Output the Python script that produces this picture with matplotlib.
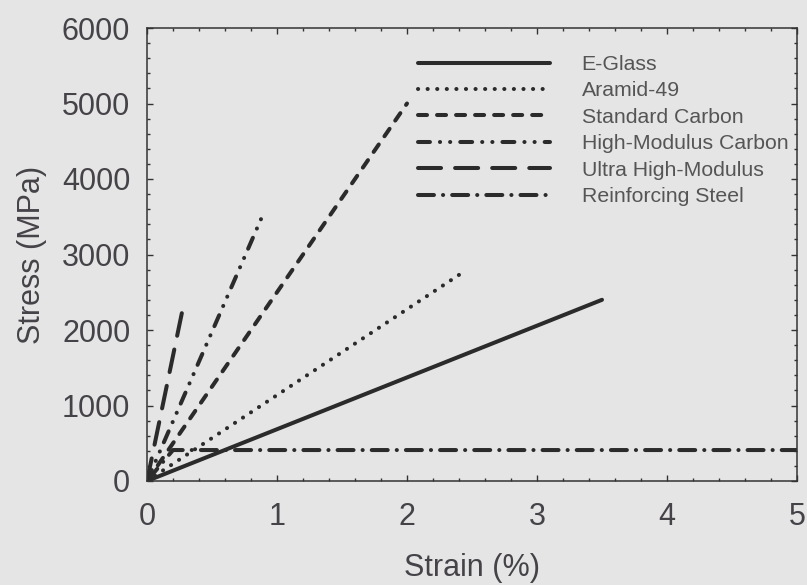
import matplotlib
matplotlib.use("Agg")
import matplotlib.pyplot as plt
from matplotlib.ticker import MultipleLocator

plt.rcParams['font.family'] = ['Liberation Sans', 'DejaVu Sans']
plt.rcParams['lines.scale_dashes'] = False

# Data (strain %, stress MPa)
series_names = ["E-Glass", "Aramid-49", "Standard Carbon",
                "High-Modulus Carbon", "Ultra High-Modulus", "Reinforcing Steel"]
eglass_x = [0, 3.5]
eglass_y = [0, 2400]
aramid_x = [0, 2.4]
aramid_y = [0, 2730]
stdcarbon_x = [0, 2.0]
stdcarbon_y = [0, 5000]
hmcarbon_x = [0, 0.89]
hmcarbon_y = [0, 3520]
uhm_x = [0, 0.27]
uhm_y = [0, 2240]
steel_x = [0, 0.2, 5.0]
steel_y = [0, 410, 410]

x_ticks = [0, 1, 2, 3, 4, 5]
y_ticks = [0, 1000, 2000, 3000, 4000, 5000, 6000]

bg = '#e5e5e5'
lc = '#2b2b2b'
tc = '#454248'

fig = plt.figure(figsize=(8.07, 5.85), dpi=100, facecolor=bg)
ax = fig.add_axes([147/807, 1-481/585, (797-147)/807, (481-28)/585])
ax.set_facecolor(bg)

lw = 2.9
styles = [
    (None),
    (0, (0.1, 6.8)),
    (0, (6.5, 7.2)),
    (0, (8.6, 7.2, 0.1, 7.2, 0.1, 7.2)),
    (0, (16.6, 10.1)),
    (0, (11.5, 6.5, 0.1, 6.5)),
]
xs = [eglass_x, aramid_x, stdcarbon_x, hmcarbon_x, uhm_x, steel_x]
ys = [eglass_y, aramid_y, stdcarbon_y, hmcarbon_y, uhm_y, steel_y]
for name, x, y, st in zip(series_names, xs, ys, styles):
    kw = dict(color=lc, lw=lw, label=name, solid_capstyle='round',
              dash_capstyle='round')
    if st is not None:
        kw['linestyle'] = st
    ax.plot(x, y, **kw)

ax.set_xlim(0, 5)
ax.set_ylim(0, 6000)
ax.set_xticks(x_ticks)
ax.set_yticks(y_ticks)
ax.xaxis.set_minor_locator(MultipleLocator(0.2))
ax.yaxis.set_minor_locator(MultipleLocator(200))
ax.tick_params(which='both', direction='in', top=True, right=True,
               color='#333333', width=1.0)
ax.tick_params(which='major', length=4.3)
ax.tick_params(which='minor', length=2.5)
ax.tick_params(axis='x', which='major', labelsize=22, labelcolor=tc, pad=15)
ax.tick_params(axis='y', which='major', labelsize=22, labelcolor=tc, pad=12)
for s in ax.spines.values():
    s.set_color('#333333')
    s.set_linewidth(1.1)

ax.set_xlabel('Strain (%)', fontsize=22, color=tc, labelpad=15)
ax.set_ylabel('Stress (MPa)', fontsize=22, color=tc, labelpad=11)

leg = ax.legend(loc='upper left', bbox_to_anchor=(418/807, 1-55/585),
                bbox_transform=fig.transFigure, frameon=False,
                fontsize=15.3, handlelength=6.2, handletextpad=1.5,
                labelspacing=0.35, borderpad=0, borderaxespad=0)
for t in leg.get_texts():
    t.set_color('#555555')

fig.savefig('out.png', dpi=100, facecolor=bg)
